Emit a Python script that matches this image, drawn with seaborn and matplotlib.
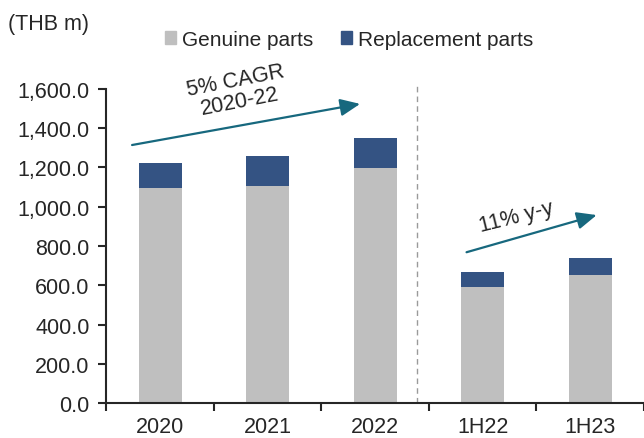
import numpy as np, pandas as pd
import matplotlib
matplotlib.use("Agg")
import matplotlib.pyplot as plt
import seaborn as sns
from matplotlib.patches import Patch
from matplotlib.ticker import StrMethodFormatter, FixedLocator

# values (THB m)
periods = ["2020", "2021", "2022", "1H22", "1H23"]
genuine = [1094, 1103, 1195, 593, 651]
replacement = [129, 154, 155, 74, 88]

GRAY = "#BFBFBF"
BLUE = "#345383"
TEAL = "#17687E"
FS = 15.5

sns.set_style("ticks")
plt.rcParams["font.family"] = ["Liberation Sans", "DejaVu Sans"]

df = pd.DataFrame({"period": periods, "genuine": genuine, "replacement": replacement})
df["total"] = df["genuine"] + df["replacement"]

fig = plt.figure(figsize=(6.44, 4.39), dpi=100)
ax = fig.add_axes([0.165, 0.079, 0.835, 0.717])

sns.barplot(data=df, x="period", y="total", color=BLUE, width=0.4,
            linewidth=0, saturation=1, ax=ax)
sns.barplot(data=df, x="period", y="genuine", color=GRAY, width=0.4,
            linewidth=0, saturation=1, ax=ax)

ax.set_xlim(-0.5, 4.5)
ax.set_ylim(0, 1600)
ax.set_yticks(np.arange(0, 1601, 200))
ax.yaxis.set_major_formatter(StrMethodFormatter("{x:,.1f}"))
ax.set_xlabel("")
ax.set_ylabel("")

# labels centred on bars, tick marks on category boundaries
ax.tick_params(axis="x", which="major", length=0, pad=9, labelsize=FS)
ax.xaxis.set_minor_locator(FixedLocator(np.arange(-0.5, 4.6, 1.0)))
ax.tick_params(axis="x", which="minor", length=6, width=1.5, direction="out")
ax.tick_params(axis="y", length=6, width=1.5, pad=6, labelsize=FS)

sns.despine(ax=ax)
for s in ["left", "bottom"]:
    ax.spines[s].set_linewidth(1.5)

# split between full years and half years
ax.axvline(2.39, color="#9A9A9A", lw=1.0, ls=(0, (4, 3)), ymax=1.01, clip_on=False)

arrow = dict(arrowstyle="-|>,head_length=0.8,head_width=0.35", color=TEAL,
             lw=1.6, mutation_scale=15, shrinkA=0, shrinkB=0)
ax.annotate("", xy=(1.86, 1522), xytext=(-0.26, 1313), arrowprops=arrow,
            annotation_clip=False)
ax.annotate("", xy=(4.06, 957), xytext=(2.85, 768), arrowprops=arrow,
            annotation_clip=False)
ax.text(0.72, 1588, "5% CAGR\n2020-22", rotation=11, ha="center", va="center",
        fontsize=FS, linespacing=1.0, rotation_mode="anchor", clip_on=False)
ax.text(3.31, 950, "11% y-y", rotation=14, ha="center", va="center",
        fontsize=FS, rotation_mode="anchor")

fig.text(0.012, 0.945, "(THB m)", fontsize=FS, ha="left", va="center")

handles = [Patch(color=GRAY, label="Genuine parts"),
           Patch(color=BLUE, label="Replacement parts")]
fig.legend(handles=handles, loc="center", bbox_to_anchor=(0.542, 0.908), ncol=2,
           frameon=False, fontsize=15, handlelength=0.55, handleheight=0.55,
           handletextpad=0.3, columnspacing=1.3)

fig.savefig("out.png", dpi=100)
